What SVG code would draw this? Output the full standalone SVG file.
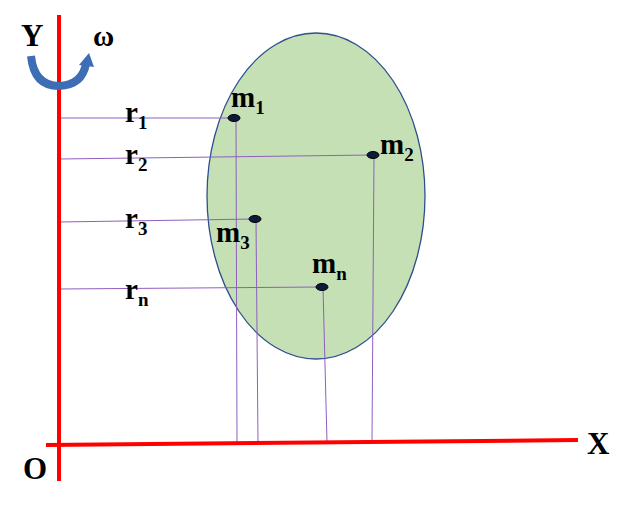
<svg xmlns="http://www.w3.org/2000/svg" width="635" height="507" viewBox="0 0 635 507">
<style>
.t{font-family:"Liberation Serif",serif;font-weight:bold;fill:#000}
.l{stroke:#8e5fbf;stroke-width:1;fill:none}
.ax{stroke:#ff0000;stroke-width:4;fill:none}
.pt{fill:#0d1a3a;stroke:#000;stroke-width:1}
</style>
<rect width="635" height="507" fill="#fff"/>
<g id="body"><ellipse cx="316" cy="196" rx="109" ry="163" fill="#c5e0b4" stroke="#2f4f8f" stroke-width="1.3"/></g>
<g id="connectors">
<line class="l" x1="59" y1="118" x2="234" y2="118"/>
<line class="l" x1="59" y1="159" x2="373" y2="155"/>
<line class="l" x1="59" y1="222" x2="255" y2="219"/>
<line class="l" x1="59" y1="289" x2="322" y2="287"/>
<line class="l" x1="236" y1="119" x2="237" y2="442"/>
<line class="l" x1="374" y1="156" x2="372" y2="441"/>
<line class="l" x1="256" y1="220" x2="258" y2="442"/>
<line class="l" x1="323" y1="288" x2="327" y2="442"/>
</g>
<g id="axes">
<line class="ax" x1="59" y1="15" x2="59" y2="481"/>
<line class="ax" x1="46" y1="445" x2="578" y2="440"/>
</g>
<g id="omega">
<path d="M31 56 Q34 86 59 86 Q82 85 86 64" fill="none" stroke="#3d6db5" stroke-width="8"/>
<polygon points="79,65 94,67 89,53" fill="#3d6db5"/>
</g>
<g id="points">
<ellipse class="pt" cx="234" cy="118" rx="6" ry="3.5"/>
<ellipse class="pt" cx="373" cy="155" rx="6" ry="3.5"/>
<ellipse class="pt" cx="255" cy="219" rx="6" ry="3.5"/>
<ellipse class="pt" cx="322" cy="287" rx="6" ry="3.5"/>
</g>
<g id="labels">
<text class="t" x="21" y="46" font-size="31">Y</text>
<text class="t" x="93" y="46" font-size="29">ω</text>
<text class="t" x="587" y="454" font-size="31">X</text>
<text class="t" x="23" y="479" font-size="31">O</text>
<text class="t" x="125" y="122" font-size="29">r<tspan font-size="19" dy="7">1</tspan></text>
<text class="t" x="125" y="164" font-size="29">r<tspan font-size="19" dy="7">2</tspan></text>
<text class="t" x="125" y="228" font-size="29">r<tspan font-size="19" dy="7">3</tspan></text>
<text class="t" x="125" y="299" font-size="29">r<tspan font-size="19" dy="7">n</tspan></text>
<text class="t" x="231" y="107" font-size="29">m<tspan font-size="19" dy="7">1</tspan></text>
<text class="t" x="380" y="154" font-size="29">m<tspan font-size="19" dy="7">2</tspan></text>
<text class="t" x="216" y="242" font-size="29">m<tspan font-size="19" dy="7">3</tspan></text>
<text class="t" x="312" y="273" font-size="29">m<tspan font-size="19" dy="7">n</tspan></text>
</g>
</svg>
